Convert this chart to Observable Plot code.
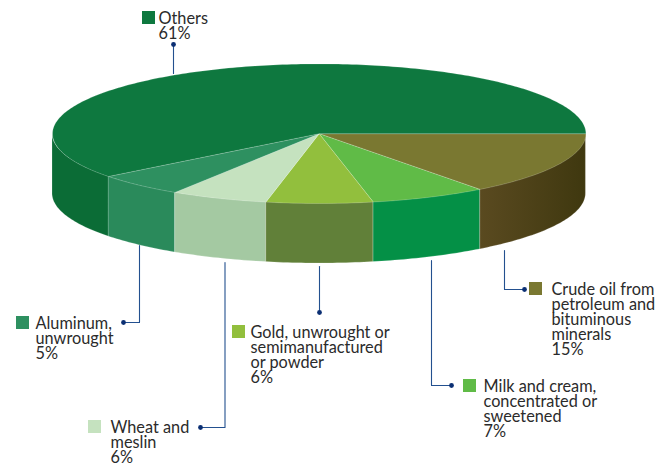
<!DOCTYPE html>
<html>
<head>
<meta charset="utf-8">
<style>
html,body{margin:0;padding:0;background:#fff;}
svg{display:block;}
</style>
<script src="https://cdn.jsdelivr.net/npm/d3@7"></script>
<script src="https://cdn.jsdelivr.net/npm/@observablehq/plot@0.6"></script>
</head>
<body>
<script>
// Chart data, clockwise from the right-hand edge of the pie
const names = ["Crude oil","Milk","Gold","Wheat","Aluminum","Others"];
const labels = [
  "Crude oil from\npetroleum and\nbituminous\nminerals",
  "Milk and cream,\nconcentrated or\nsweetened",
  "Gold, unwrought or\nsemimanufactured\nor powder",
  "Wheat and\nmeslin",
  "Aluminum,\nunwrought",
  "Others"
];
const shares = [14.7, 7.05, 6.45, 5.9, 5.4, 60.5];
const topColors = ["#7A7831","#60BB47","#92BF3D","#C5E2BF","#2E9060","#0E783F"];
const sideColors = ["url(#oilSide)","#049046","#618039","#A4C9A2","#2A8A5B","#0B6C36"];

// Layout of the pie (pixels in the identity x/y scales)
const cx = 318.7, cy = 133.2, rx = 266.7, ry = 69.8, depth = 60;
// Legend and leader placement
const legendX = [529, 463, 232, 88, 16, 142];
const legendY = [282, 379, 325, 420, 316, 11];
const textGap = [22, 20, 18, 22, 19, 16];
const leaderX = [[504,504,524],[431,431,451],[319,319],[224.5,224.5,200],[139,139,123],[173,173]];
const leaderY = [[250,289,289],[260,385,385],[266,312],[262,427,427],[245,322,322],[73,44]];

const pos = (deg) => ({
  x: cx + rx * Math.cos(deg * Math.PI / 180),
  y: cy + ry * Math.sin(deg * Math.PI / 180)
});

let acc = 0;
const slices = names.map((name, i) => {
  const a0 = acc * 3.6; acc += shares[i]; const a1 = acc * 3.6;
  return {name, i, a0, a1};
});

const arc = (a0, a1) => {
  const n = Math.max(2, Math.ceil(a1 - a0));
  return d3.range(n + 1).map(k => a0 + (a1 - a0) * k / n);
};

const topRows = slices.flatMap(s => [
  {name: s.name, x: cx, y: cy},
  ...arc(s.a0, s.a1).map(a => ({name: s.name, ...pos(a)})),
  {name: s.name, x: cx, y: cy}
]);

const sideMarks = slices.filter(s => s.a0 < 180).map(s => {
  const rows = arc(s.a0, Math.min(s.a1, 180)).map(a => {
    const p = pos(a);
    return {x: p.x, y1: p.y, y2: p.y + depth};
  });
  return Plot.area(rows, {x1: "x", y1: "y1", y2: "y2", fill: sideColors[s.i], stroke: "#fff", strokeOpacity: 0.3, strokeWidth: 0.6});
});

const leaderRows = names.flatMap((name, i) => leaderX[i].map((x, k) => ({name, x, y: leaderY[i][k]})));
const leaderEnds = names.map((name, i) => ({x: leaderX[i].at(-1), y: leaderY[i].at(-1)}));

const legend = names.map((name, i) => ({
  name,
  x: legendX[i], y: legendY[i],
  tx: legendX[i] + textGap[i],
  text: labels[i] + "\n" + Math.round(shares[i]) + "%"
}));

const defs = () => {
  const svgNS = "http://www.w3.org/2000/svg";
  const d = document.createElementNS(svgNS, "defs");
  d.innerHTML = `<linearGradient id="oilSide" x1="0" x2="1" y1="0" y2="0">
    <stop offset="0" stop-color="#5A4A20"/><stop offset="1" stop-color="#3F380F"/></linearGradient>`;
  return d;
};

const chart = Plot.plot({
  width: 664, height: 465,
  margin: 0,
  x: {domain: [0, 664], range: [0, 664], axis: null},
  y: {domain: [0, 465], range: [0, 465], axis: null},
  color: {domain: names, range: topColors},
  style: {fontFamily: "Lato, sans-serif", fontSize: "16px", background: "#fff", maxWidth: "none"},
  marks: [
    defs,
    ...sideMarks,
    Plot.line(topRows, {x: "x", y: "y", z: "name", fill: "name", stroke: "#fff", strokeOpacity: 0.3, strokeWidth: 0.6, curve: "linear"}),
    Plot.line(leaderRows, {x: "x", y: "y", z: "name", stroke: "#23508F", strokeWidth: 1.1, curve: "linear"}),
    Plot.dot(leaderEnds, {x: "x", y: "y", r: 2.4, fill: "#0B2F73", stroke: "none"}),
    Plot.rect(legend, {x1: "x", x2: d => d.x + 13, y1: "y", y2: d => d.y + 13, fill: "name"}),
    Plot.text(legend, {x: "tx", y: d => d.y, dy: 1.2, text: "text", textAnchor: "start", lineAnchor: "top", lineHeight: 0.935, fontSize: 16.3, fill: "#2b2b2b"})
  ]
});
document.body.appendChild(chart);
</script>
</body>
</html>
